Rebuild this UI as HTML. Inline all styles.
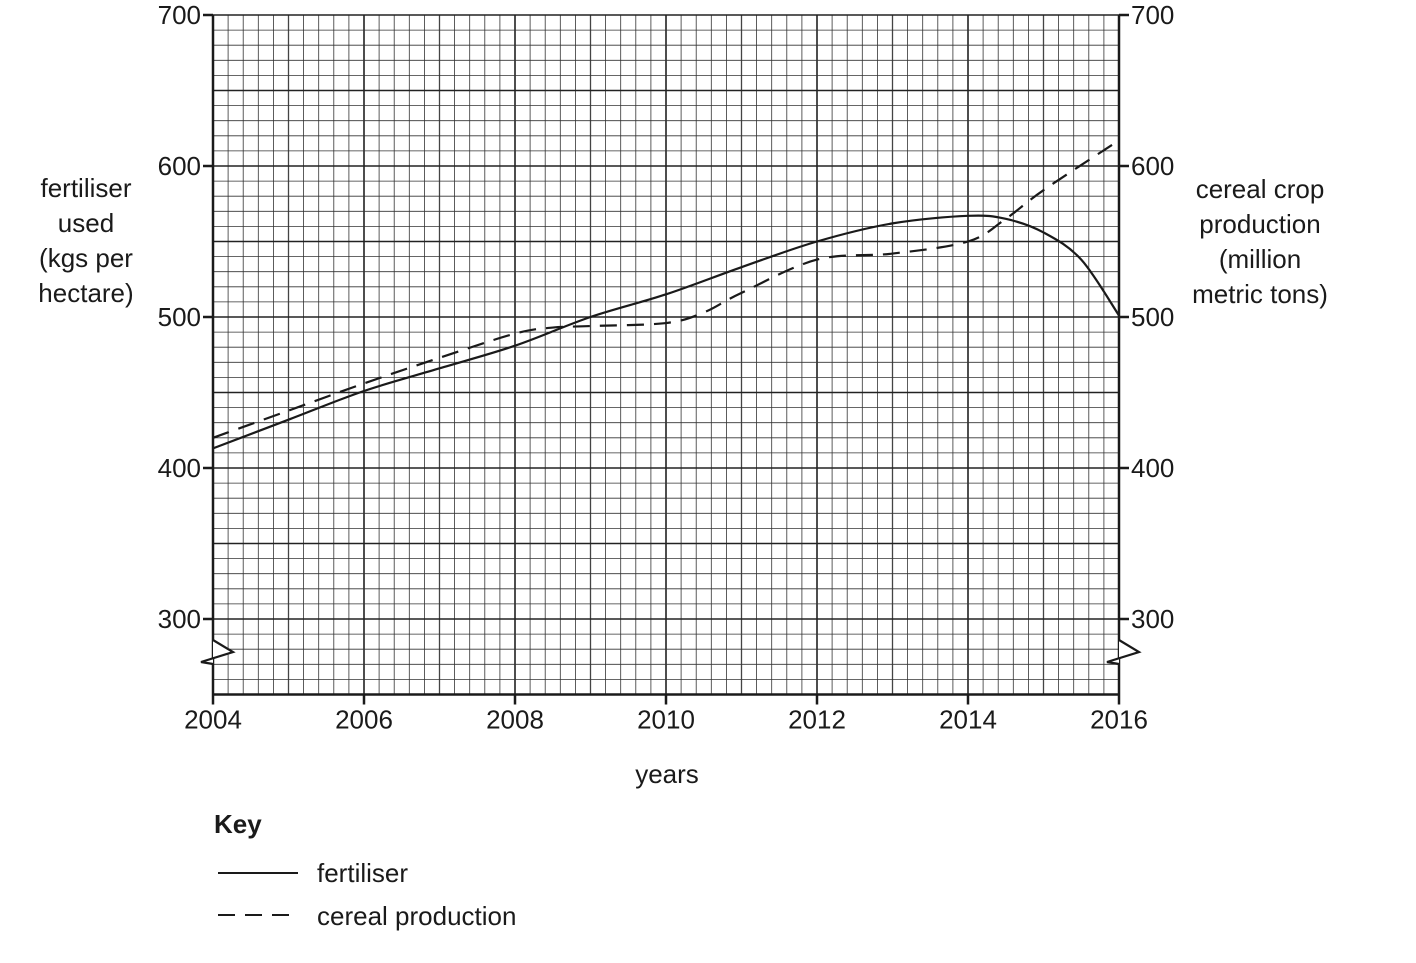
<!DOCTYPE html>
<html><head><meta charset="utf-8"><style>
body{margin:0;background:#fff;}
svg text{font-family:"Liberation Sans",Arial,sans-serif;fill:#1a1a1a;}
</style></head><body>
<svg width="1416" height="958" xmlns="http://www.w3.org/2000/svg">
<g id="grid"></g>
<g id="marks"></g>
<g id="axes"></g>
<text font-size="26" text-anchor="middle"><tspan x="86" y="197">fertiliser</tspan><tspan x="86" y="232">used</tspan><tspan x="86" y="267">(kgs per</tspan><tspan x="86" y="302">hectare)</tspan></text>
<text font-size="26" text-anchor="middle"><tspan x="1260" y="198">cereal crop</tspan><tspan x="1260" y="233">production</tspan><tspan x="1260" y="268">(million</tspan><tspan x="1260" y="303">metric tons)</tspan></text>
<text x="667" y="783" font-size="26" text-anchor="middle">years</text>
<text x="214" y="833" font-size="26" font-weight="bold">Key</text>
<line x1="218" y1="873" x2="298" y2="873" stroke="#1a1a1a" stroke-width="2"/>
<text x="317" y="882" font-size="26">fertiliser</text>
<line x1="218" y1="915" x2="298" y2="915" stroke="#1a1a1a" stroke-width="2" stroke-dasharray="17,10"/>
<text x="317" y="925" font-size="26">cereal production</text>
</svg>
<script>
const years=[2004,2005,2006,2007,2008,2009,2010,2011,2012,2013,2014,2014.5,2015,2015.5,2016];
const fertiliser=[413,432,451,466,481,500,515,533,550,562,567,565,556,538,501];
const cerealYears=[2004,2005,2006,2007,2008,2008.5,2009,2010,2010.5,2011,2012,2013,2014,2014.5,2015,2016];
const cereal=[420,438,456,473,489,493,494,496,503,516,538,542,550,565,584,617];
const yTicks=[300,400,500,600,700];
const xTicks=[2004,2006,2008,2010,2012,2014,2016];
const NS="http://www.w3.org/2000/svg";
const X0=213,X1=1119,Y700=15,PX=1.51;
const xs=v=>X0+(v-2004)*(X1-X0)/12;
const ys=v=>Y700+(700-v)*PX;
const BOT=ys(250);
function mk(tag,attrs,parent){const e=document.createElementNS(NS,tag);for(const k in attrs)e.setAttribute(k,attrs[k]);parent.appendChild(e);return e;}
const grid=document.getElementById('grid'),axes=document.getElementById('axes'),marks=document.getElementById('marks');
for(let i=0;i<=60;i++){const yr=2004+i*0.2;const x=xs(yr);const major=i%10===0,med=i%5===0;
 const l=mk('line',{x1:x,x2:x,y1:Y700,y2:BOT,stroke:major?'#222':(med?'#444':'#333'),'stroke-width':major?1.6:(med?1.3:0.8)},grid);
 }
for(let v=250;v<=700;v+=10){const y=ys(v);const major=v%50===0;
 const l=mk('line',{x1:X0,x2:X1,y1:y,y2:y,stroke:major?'#222':'#333','stroke-width':major?1.6:0.8},grid);
 }
[[X0,Y700,X0,BOT],[X1,Y700,X1,BOT],[X0,BOT,X1,BOT]].forEach(a=>{const l=mk('line',{x1:a[0],y1:a[1],x2:a[2],y2:a[3],stroke:'#1a1a1a','stroke-width':2.5},axes);});
[X0,X1].forEach(x=>{const p=mk('path',{d:`M${x},640 L${x+20},652 L${x-12},662 L${x},664`,fill:'#fff',stroke:'#1a1a1a','stroke-width':2.2},axes);});
yTicks.forEach(v=>{const y=ys(v);
 let l=mk('line',{x1:X0-10,x2:X0,y1:y,y2:y,stroke:'#1a1a1a','stroke-width':2.5},axes);
 l=mk('line',{x1:X1,x2:X1+10,y1:y,y2:y,stroke:'#1a1a1a','stroke-width':2.5},axes);
 let t=mk('text',{x:X0-12,y:y+9,'font-size':26,'text-anchor':'end'},axes);t.textContent=v;
 t=mk('text',{x:X1+12,y:y+9,'font-size':26},axes);t.textContent=v;});
xTicks.forEach(v=>{const x=xs(v);
 const l=mk('line',{x1:x,x2:x,y1:BOT,y2:BOT+10,stroke:'#1a1a1a','stroke-width':2.5},axes);
 const t=mk('text',{x:x,y:BOT+34,'font-size':26,'text-anchor':'middle'},axes);t.textContent=v;});
function smooth(px,py){const pts=px.map((v,i)=>[xs(v),ys(py[i])]);let d=`M${pts[0][0]},${pts[0][1]}`;
 for(let i=0;i<pts.length-1;i++){const p0=pts[Math.max(0,i-1)],p1=pts[i],p2=pts[i+1],p3=pts[Math.min(pts.length-1,i+2)];
  d+=` C${p1[0]+(p2[0]-p0[0])/6},${p1[1]+(p2[1]-p0[1])/6} ${p2[0]-(p3[0]-p1[0])/6},${p2[1]-(p3[1]-p1[1])/6} ${p2[0]},${p2[1]}`;}return d;}
let p=mk('path',{d:smooth(years,fertiliser),fill:'none',stroke:'#1a1a1a','stroke-width':2.2},marks);

p=mk('path',{d:smooth(cerealYears,cereal),fill:'none',stroke:'#1a1a1a','stroke-width':2.2,'stroke-dasharray':'17,10'},marks);

</script>
</body></html>
